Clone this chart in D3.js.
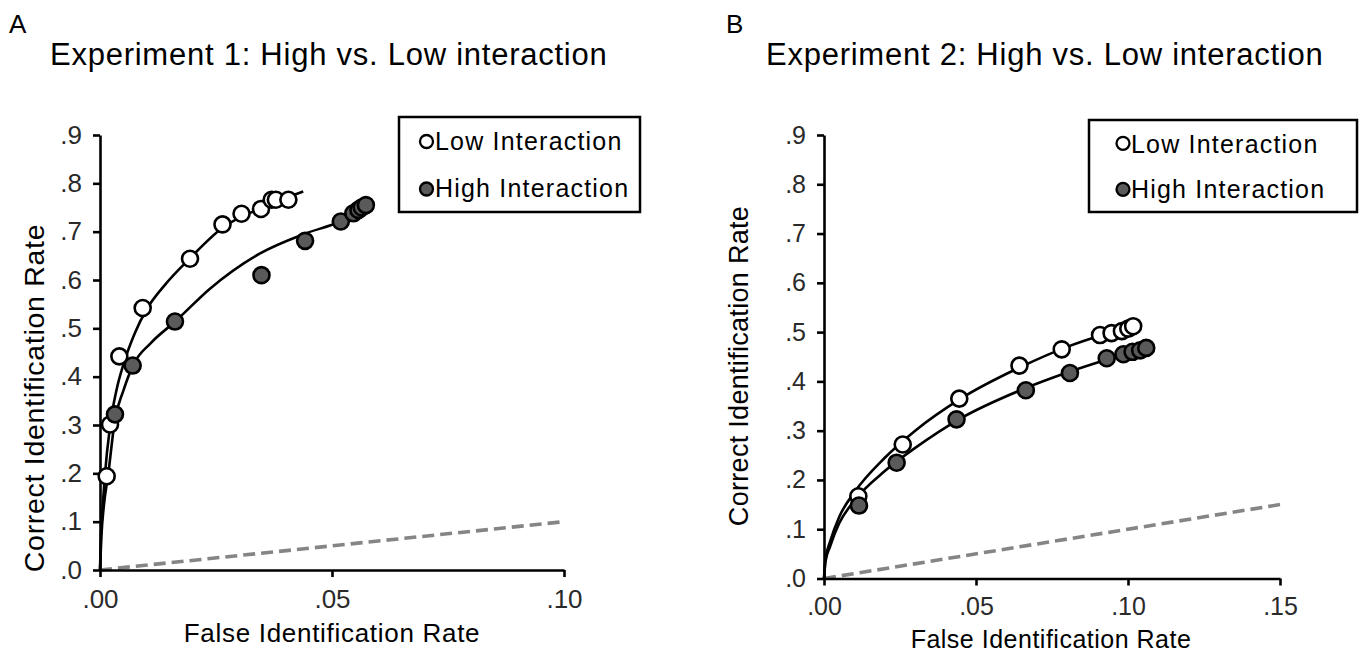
<!DOCTYPE html>
<html><head><meta charset="utf-8">
<script src="https://cdn.jsdelivr.net/npm/d3@7"></script>
<style>
body{margin:0;background:#fff;}
text{font-family:"Liberation Sans",Arial,Helvetica,sans-serif;}
</style></head>
<body><svg id="c" width="1362" height="653"></svg>
<script>
// ---- Data ----
const yTicks = [0, 0.1, 0.2, 0.3, 0.4, 0.5, 0.6, 0.7, 0.8, 0.9];
const yTickLabels = [".0", ".1", ".2", ".3", ".4", ".5", ".6", ".7", ".8", ".9"];
const xTicksA = [0, 0.05, 0.10];
const xTickLabelsA = [".00", ".05", ".10"];
const xTicksB = [0, 0.05, 0.10, 0.15];
const xTickLabelsB = [".00", ".05", ".10", ".15"];

// Experiment 1 points
const lowA_fir = [0.00144, 0.00216, 0.00417, 0.0092, 0.0194, 0.0264, 0.0305, 0.0347, 0.0370, 0.0379, 0.0406];
const lowA_cir = [0.194, 0.301, 0.442, 0.542, 0.644, 0.715, 0.737, 0.747, 0.766, 0.766, 0.766];
const highA_fir = [0.00323, 0.00704, 0.01616, 0.0348, 0.0442, 0.0519, 0.0546, 0.0557, 0.0564, 0.0573];
const highA_cir = [0.322, 0.423, 0.514, 0.610, 0.681, 0.721, 0.738, 0.745, 0.750, 0.755];
// Experiment 1 fitted curves
const lowA_fit_x = [0, 0.0002, 0.0005, 0.001, 0.0022, 0.0035, 0.0052, 0.0075, 0.0101, 0.014, 0.0194, 0.0264, 0.035, 0.0438];
const lowA_fit_y = [0, 0.07, 0.12, 0.19, 0.30, 0.37, 0.43, 0.49, 0.54, 0.59, 0.645, 0.708, 0.75, 0.783];
const highA_fit_x = [0, 0.0003, 0.0008, 0.0018, 0.0032, 0.005, 0.0072, 0.0110, 0.0162, 0.0237, 0.0345, 0.0442, 0.0517, 0.0573];
const highA_fit_y = [0, 0.07, 0.13, 0.20, 0.31, 0.37, 0.425, 0.47, 0.514, 0.582, 0.655, 0.696, 0.721, 0.752];

// Experiment 2 points
const lowB_fir = [0.0113, 0.0259, 0.0445, 0.0643, 0.0782, 0.0908, 0.0946, 0.0980, 0.1001, 0.1017];
const lowB_cir = [0.167, 0.272, 0.365, 0.432, 0.465, 0.494, 0.498, 0.502, 0.507, 0.512];
const highB_fir = [0.0115, 0.0239, 0.0436, 0.0664, 0.0809, 0.0930, 0.0985, 0.1015, 0.1040, 0.1060];
const highB_cir = [0.148, 0.235, 0.323, 0.382, 0.417, 0.447, 0.455, 0.460, 0.463, 0.468];
// Experiment 2 fitted curves
const lowB_fit_x = [0, 0.0005, 0.002, 0.005, 0.01, 0.02, 0.03, 0.045, 0.065, 0.08, 0.0915, 0.1017];
const lowB_fit_y = [0, 0.04, 0.075, 0.125, 0.175, 0.245, 0.30, 0.365, 0.43, 0.47, 0.494, 0.512];
const highB_fit_x = [0, 0.0005, 0.002, 0.005, 0.01, 0.02, 0.03, 0.045, 0.065, 0.08, 0.095, 0.106];
const highB_fit_y = [0, 0.035, 0.065, 0.112, 0.158, 0.218, 0.265, 0.325, 0.383, 0.418, 0.448, 0.468];

// Chance lines
const chanceA = [0, 0.10];
const chanceB = [0, 0.15];

const legendLabels = ["Low Interaction", "High Interaction"];
const titles = ["Experiment 1: High vs. Low interaction", "Experiment 2: High vs. Low interaction"];
const panelLetters = ["A", "B"];
const xLabel = "False Identification Rate";
const yLabel = "Correct Identification Rate";

// ---- Drawing ----
const svg = d3.select("#c");
const zip = (a, b) => a.map((v, i) => [v, b[i]]);

function panel(cfg) {
  const x = d3.scaleLinear().domain(cfg.xDomain).range(cfg.xRange);
  const y = d3.scaleLinear().domain([0, 0.9]).range(cfg.yRange);
  const g = svg.append("g");

  // chance line
  g.append("line")
    .attr("x1", x(cfg.chance[0])).attr("y1", y(cfg.chance[0]))
    .attr("x2", x(cfg.chance[1])).attr("y2", y(cfg.chance[1]))
    .attr("stroke", "#858585").attr("stroke-width", 3.6)
    .attr("stroke-dasharray", "12,6");

  // axes
  const yAxis = d3.axisLeft(y).tickValues(yTicks)
    .tickFormat((d, i) => yTickLabels[i]).tickSize(7).tickSizeOuter(0).tickPadding(cfg.yPad);
  const xAxis = d3.axisBottom(x).tickValues(cfg.xTicks)
    .tickFormat((d, i) => cfg.xTickLabels[i]).tickSize(7).tickSizeOuter(0).tickPadding(cfg.xPad);
  const ya = g.append("g").attr("transform", `translate(${cfg.xRange[0]},0)`).call(yAxis);
  const xa = g.append("g").attr("transform", `translate(0,${cfg.yRange[0]})`).call(xAxis);
  [ya, xa].forEach(a => {
    a.select(".domain").attr("stroke", "#000").attr("stroke-width", 2.6);
    a.selectAll(".tick line").attr("stroke", "#000").attr("stroke-width", 2.6);
    a.selectAll(".tick text").attr("fill", "#2a2a2a").style("font-size", cfg.tickFont + "px")
      .style("font-family", '"Liberation Sans",Arial,sans-serif');
  });

  const line = d3.line().x(d => x(d[0])).y(d => y(d[1])).curve(d3.curveMonotoneX);
  cfg.fits.forEach(f => {
    g.append("path").attr("d", line(f)).attr("fill", "none")
      .attr("stroke", "#000").attr("stroke-width", 2.6);
  });

  // points: low (white) then high (gray)
  g.selectAll(".lowpt").data(cfg.low).join("circle")
    .attr("cx", d => x(d[0])).attr("cy", d => y(d[1])).attr("r", cfg.r)
    .attr("fill", "#fff").attr("stroke", "#000").attr("stroke-width", 2.6);
  g.selectAll(".highpt").data(cfg.high).join("circle")
    .attr("cx", d => x(d[0])).attr("cy", d => y(d[1])).attr("r", cfg.r)
    .attr("fill", "#5a5a5a").attr("stroke", "#000").attr("stroke-width", 2.6);

  // axis titles
  g.append("text").attr("x", cfg.xLabelPos[0]).attr("y", cfg.xLabelPos[1])
    .attr("text-anchor", "middle").style("font-size", cfg.xLabelFont + "px")
    .style("letter-spacing", cfg.xLabelLS + "px").attr("fill", "#000").text(xLabel);
  g.append("text").attr("transform", `translate(${cfg.yLabelPos[0]},${cfg.yLabelPos[1]}) rotate(-90)`)
    .attr("text-anchor", "middle").style("font-size", cfg.yLabelFont + "px")
    .style("letter-spacing", cfg.yLabelLS + "px").attr("fill", "#000").text(yLabel);

  // panel letter + title
  g.append("text").attr("x", cfg.letterPos[0]).attr("y", cfg.letterPos[1])
    .style("font-size", "26px").attr("fill", "#000").text(cfg.letter);
  g.append("text").attr("x", cfg.titlePos[0]).attr("y", cfg.titlePos[1])
    .style("font-size", "31px").style("letter-spacing", "0.75px").attr("fill", "#000").text(cfg.title);

  // legend
  const L = cfg.legend;
  g.append("rect").attr("x", L.x).attr("y", L.y).attr("width", L.w).attr("height", L.h)
    .attr("fill", "#fff").attr("stroke", "#000").attr("stroke-width", 2.5);
  const fills = ["#fff", "#5a5a5a"];
  legendLabels.forEach((lab, i) => {
    g.append("circle").attr("cx", L.mx).attr("cy", L.my[i]).attr("r", L.mr)
      .attr("fill", fills[i]).attr("stroke", "#000").attr("stroke-width", 2.3);
    g.append("text").attr("x", L.tx).attr("y", L.ty[i]).style("font-size", L.font + "px")
      .style("letter-spacing", L.ls + "px").attr("fill", "#000").text(lab);
  });
}

panel({
  xDomain: [0, 0.10], xRange: [100, 564], yRange: [570, 135],
  xTicks: xTicksA, xTickLabels: xTickLabelsA, chance: chanceA,
  yPad: 11, xPad: 13, tickFont: 26, r: 8,
  fits: [zip(lowA_fit_x, lowA_fit_y), zip(highA_fit_x, highA_fit_y)],
  low: zip(lowA_fir, lowA_cir), high: zip(highA_fir, highA_cir),
  xLabelPos: [332, 642], xLabelFont: 26, xLabelLS: 0.7,
  yLabelPos: [44, 398], yLabelFont: 28.5, yLabelLS: 0.7,
  letter: panelLetters[0], letterPos: [9, 33],
  title: titles[0], titlePos: [50, 65],
  legend: {x: 399, y: 117, w: 241, h: 95, mx: 426.5, my: [141.5, 189], mr: 6.5,
           tx: 435, ty: [150, 196.5], font: 25, ls: 1.2}
});

panel({
  xDomain: [0, 0.15], xRange: [824, 1280], yRange: [578.5, 135],
  xTicks: xTicksB, xTickLabels: xTickLabelsB, chance: chanceB,
  yPad: 11, xPad: 12, tickFont: 25, r: 8,
  fits: [zip(lowB_fit_x, lowB_fit_y), zip(highB_fit_x, highB_fit_y)],
  low: zip(lowB_fir, lowB_cir), high: zip(highB_fir, highB_cir),
  xLabelPos: [1051, 648], xLabelFont: 25, xLabelLS: 0.5,
  yLabelPos: [748, 366], yLabelFont: 27, yLabelLS: 0.3,
  letter: panelLetters[1], letterPos: [726, 33],
  title: titles[1], titlePos: [766, 65],
  legend: {x: 1089, y: 120, w: 268, h: 92, mx: 1123, my: [143.3, 189.3], mr: 6.5,
           tx: 1131, ty: [152.5, 197.5], font: 25, ls: 1.2}
});
</script></body></html>
